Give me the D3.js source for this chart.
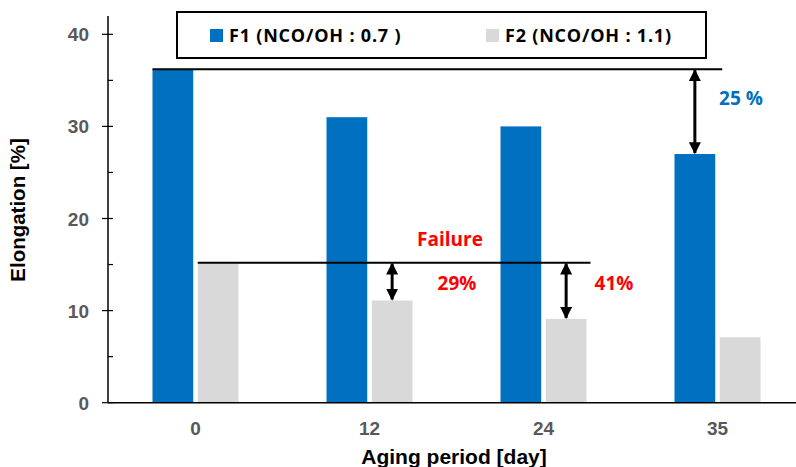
<!DOCTYPE html>
<head>
  <meta charset="utf-8">
  <script src="https://d3js.org/d3.v7.min.js"></script>
  <style>
    body { margin:0; background:#fff; }
  </style>
</head>
<body>
<script>
  // data
  var days = ["0", "12", "24", "35"];
  var series = ["F1", "F2"];
  var seriesLabels = ["F1 (NCO/OH : 0.7 )", "F2 (NCO/OH : 1.1)"];
  var f1 = [36.2, 31, 30, 27];
  var f2 = [15.2, 11.1, 9.1, 7.1];
  var yTicks = [0, 10, 20, 30, 40];
  var yMinor = [5, 15, 25, 35];
  // drop annotations: series, reference day, day of the drop, label
  var drops = [
    {s: "F1", ref: 0, at: 3, label: "25 %"},
    {s: "F2", ref: 0, at: 1, label: "29%"},
    {s: "F2", ref: 0, at: 2, label: "41%"}
  ];

  var W = 796, H = 467;
  var colors = {F1: "#0070C0", F2: "#D9D9D9"};
  var values = {F1: f1, F2: f2};

  var svg = d3.select("body").append("svg")
    .attr("width", W)
    .attr("height", H);

  var x0 = d3.scaleBand().domain(days).range([108.5, 804.5]);
  var x1 = d3.scaleBand().domain(series).range([-43, 43]).paddingInner(0.1);
  var y = d3.scaleLinear().domain([0, 40]).range([402.7, 34.3]);

  function cx(i) { return x0(days[i]) + x0.bandwidth() / 2; }
  function barLeft(s, i) { return cx(i) + x1(s); }
  function barMid(s, i) { return barLeft(s, i) + x1.bandwidth() / 2; }

  // bars
  var rows = days.map(function(d, i) {
    return series.map(function(s) { return {s: s, i: i, v: values[s][i]}; });
  });
  svg.append("g").selectAll("g")
    .data(rows).enter().append("g")
    .selectAll("rect")
    .data(function(d) { return d; }).enter().append("rect")
    .attr("x", function(d) { return barLeft(d.s, d.i); })
    .attr("y", function(d) { return y(d.v); })
    .attr("width", x1.bandwidth())
    .attr("height", function(d) { return y(0) - y(d.v); })
    .attr("fill", function(d) { return colors[d.s]; });

  // y axis
  var axisFont = "bold 19px 'Liberation Sans', Arial, sans-serif";
  var yAxis = svg.append("g");
  yAxis.append("line")
    .attr("x1", 108).attr("x2", 108)
    .attr("y1", y(42)).attr("y2", y(0))
    .attr("stroke", "#000").attr("stroke-width", 1.5);
  yAxis.selectAll(".major").data(yTicks).enter().append("line")
    .attr("x1", 102).attr("x2", 113)
    .attr("y1", function(d) { return y(d); })
    .attr("y2", function(d) { return y(d); })
    .attr("stroke", "#000").attr("stroke-width", 1.2);
  yAxis.selectAll(".minor").data(yMinor).enter().append("line")
    .attr("x1", 108).attr("x2", 113)
    .attr("y1", function(d) { return y(d); })
    .attr("y2", function(d) { return y(d); })
    .attr("stroke", "#000").attr("stroke-width", 1.2);
  yAxis.selectAll("text").data(yTicks).enter().append("text")
    .attr("x", 89)
    .attr("y", function(d) { return y(d) + 7; })
    .attr("text-anchor", "end")
    .style("font", axisFont)
    .attr("fill", "#595959")
    .text(function(d) { return d; });

  // x axis
  svg.append("line")
    .attr("x1", 108).attr("x2", W)
    .attr("y1", y(0)).attr("y2", y(0))
    .attr("stroke", "#000").attr("stroke-width", 1.5);
  svg.append("g").selectAll("text").data(days).enter().append("text")
    .attr("x", function(d, i) { return cx(i); })
    .attr("y", 435)
    .attr("text-anchor", "middle")
    .style("font", axisFont)
    .attr("fill", "#595959")
    .text(function(d) { return d; });

  // axis titles
  svg.append("text")
    .attr("x", 454).attr("y", 464)
    .attr("text-anchor", "middle")
    .style("font", "bold 21px 'Liberation Sans', Arial, sans-serif")
    .text("Aging period [day]");
  svg.append("text")
    .attr("transform", "translate(25,210) rotate(-90)")
    .attr("text-anchor", "middle")
    .style("font", "bold 20.5px 'Liberation Sans', Arial, sans-serif")
    .text("Elongation [%]");

  // reference lines
  svg.append("line")
    .attr("x1", barLeft("F1", 0)).attr("x2", barLeft("F1", 3) + x1.bandwidth() + 7)
    .attr("y1", y(f1[0])).attr("y2", y(f1[0]))
    .attr("stroke", "#000").attr("stroke-width", 2);
  svg.append("line")
    .attr("x1", barLeft("F2", 0)).attr("x2", barLeft("F2", 2) + x1.bandwidth() + 4)
    .attr("y1", y(f2[0])).attr("y2", y(f2[0]))
    .attr("stroke", "#000").attr("stroke-width", 2);

  // arrows
  var defs = svg.append("defs");
  defs.append("marker")
    .attr("id", "head")
    .attr("viewBox", "0 0 10 10")
    .attr("refX", 9).attr("refY", 5)
    .attr("markerWidth", 4).attr("markerHeight", 4)
    .attr("markerUnits", "strokeWidth")
    .attr("orient", "auto-start-reverse")
    .append("path")
    .attr("d", "M0,0 L10,5 L0,10 Z")
    .attr("fill", "#000");

  svg.append("g").selectAll("line").data(drops).enter().append("line")
    .attr("x1", function(d) { return barMid(d.s, d.at); })
    .attr("x2", function(d) { return barMid(d.s, d.at); })
    .attr("y1", function(d) { return y(values[d.s][d.ref]) + 1; })
    .attr("y2", function(d) { return y(values[d.s][d.at]) - 1; })
    .attr("stroke", "#000").attr("stroke-width", 3)
    .attr("marker-start", "url(#head)")
    .attr("marker-end", "url(#head)");

  // annotation texts
  var annFont = "bold 19px 'Open Sans', 'Noto Sans', sans-serif";
  svg.append("text").attr("x", 741).attr("y", 105)
    .attr("text-anchor", "middle").style("font", annFont)
    .attr("fill", "#0070C0").text(drops[0].label);
  svg.append("text").attr("x", 457).attr("y", 290)
    .attr("text-anchor", "middle").style("font", annFont)
    .attr("fill", "#FF0000").text(drops[1].label);
  svg.append("text").attr("x", 614).attr("y", 290)
    .attr("text-anchor", "middle").style("font", annFont)
    .attr("fill", "#FF0000").text(drops[2].label);
  svg.append("text").attr("x", 450).attr("y", 246)
    .attr("text-anchor", "middle").style("font", annFont)
    .attr("fill", "#FF0000").text("Failure");

  // legend
  var legend = svg.append("g");
  legend.append("rect")
    .attr("x", 177).attr("y", 12)
    .attr("width", 529).attr("height", 46)
    .attr("fill", "#fff").attr("stroke", "#000").attr("stroke-width", 2);
  var lx = [210, 486];
  series.forEach(function(s, i) {
    legend.append("rect")
      .attr("x", lx[i]).attr("y", 29)
      .attr("width", 13).attr("height", 13)
      .attr("fill", colors[s]);
    legend.append("text")
      .attr("x", lx[i] + 19).attr("y", 42)
      .style("font", "bold 18px 'Open Sans', 'Noto Sans', sans-serif")
      .style("letter-spacing", "0.8px")
      .text(seriesLabels[i]);
  });
</script>
</body>
